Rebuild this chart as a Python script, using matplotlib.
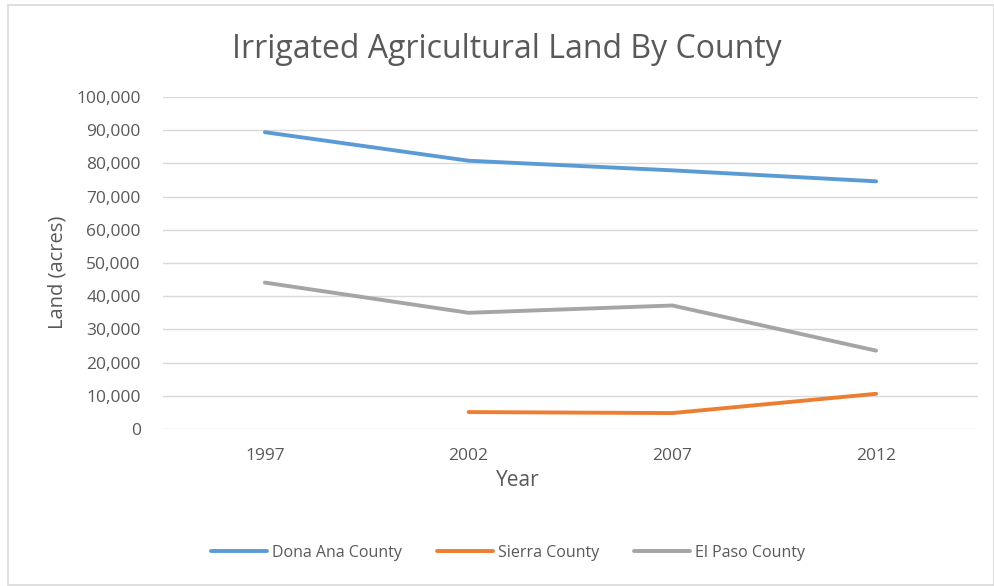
import matplotlib
matplotlib.use("Agg")
import matplotlib.pyplot as plt
from matplotlib.patches import Rectangle
from matplotlib.ticker import FuncFormatter
import numpy as np

years = ["1997", "2002", "2007", "2012"]
dona_ana = [89400, 80800, 77900, 74600]
sierra = [np.nan, 5100, 4800, 10600]
el_paso = [44100, 35000, 37200, 23600]
series_names = ["Dona Ana County", "Sierra County", "El Paso County"]
colors = ["#5b9bd5", "#ed7d31", "#a5a5a5"]

plt.rcParams['font.family'] = ['Open Sans', 'DejaVu Sans']
W, H = 995, 586
fig = plt.figure(figsize=(W / 100, H / 100), dpi=100)
fig.patch.set_facecolor("white")

fig.patches.append(Rectangle((8 / W, 1 / H), (W - 9) / W, (H - 6) / H,
                             transform=fig.transFigure, fill=False,
                             edgecolor="#d9d9d9", linewidth=1.2))

ax = fig.add_axes([163 / W, 1 - 429 / H, (978 - 163) / W, (429 - 97) / H])
x = np.arange(len(years))
for vals, name, c in zip([dona_ana, sierra, el_paso], series_names, colors):
    ax.plot(x, vals, color=c, linewidth=2.8, label=name, solid_capstyle="round")

ax.set_xlim(-0.5, len(years) - 0.5)
ax.set_ylim(0, 100000)
ax.set_yticks(np.arange(0, 100001, 10000))
ax.yaxis.set_major_formatter(FuncFormatter(lambda v, p: f"{int(v):,}"))
ax.set_xticks(x)
ax.set_xticklabels(years)
ax.grid(axis="y", color="#d9d9d9", linewidth=1)
ax.set_axisbelow(True)
for s in ax.spines.values():
    s.set_visible(False)
ax.tick_params(length=0, labelsize=12.5, colors="#595959", pad=16)
ax.tick_params(axis="x", pad=14)

fig.text(507 / W, 1 - 49 / H, "Irrigated Agricultural Land By County",
         ha="center", va="center", fontsize=23, color="#595959")
fig.text(58 / W, 1 - 272 / H, "Land (acres)", rotation=90, ha="center",
         va="center", fontsize=14.5, color="#595959")
fig.text(518 / W, 1 - 481 / H, "Year", ha="center", va="center",
         fontsize=15, color="#595959")

leg = fig.legend(loc="center", bbox_to_anchor=(508 / W, 1 - 553 / H), ncol=3,
                 frameon=False, fontsize=11.5, handlelength=3.5,
                 columnspacing=2.2, handletextpad=0.3)
for t in leg.get_texts():
    t.set_color("#595959")

fig.savefig("out.png", dpi=100, facecolor="white")
